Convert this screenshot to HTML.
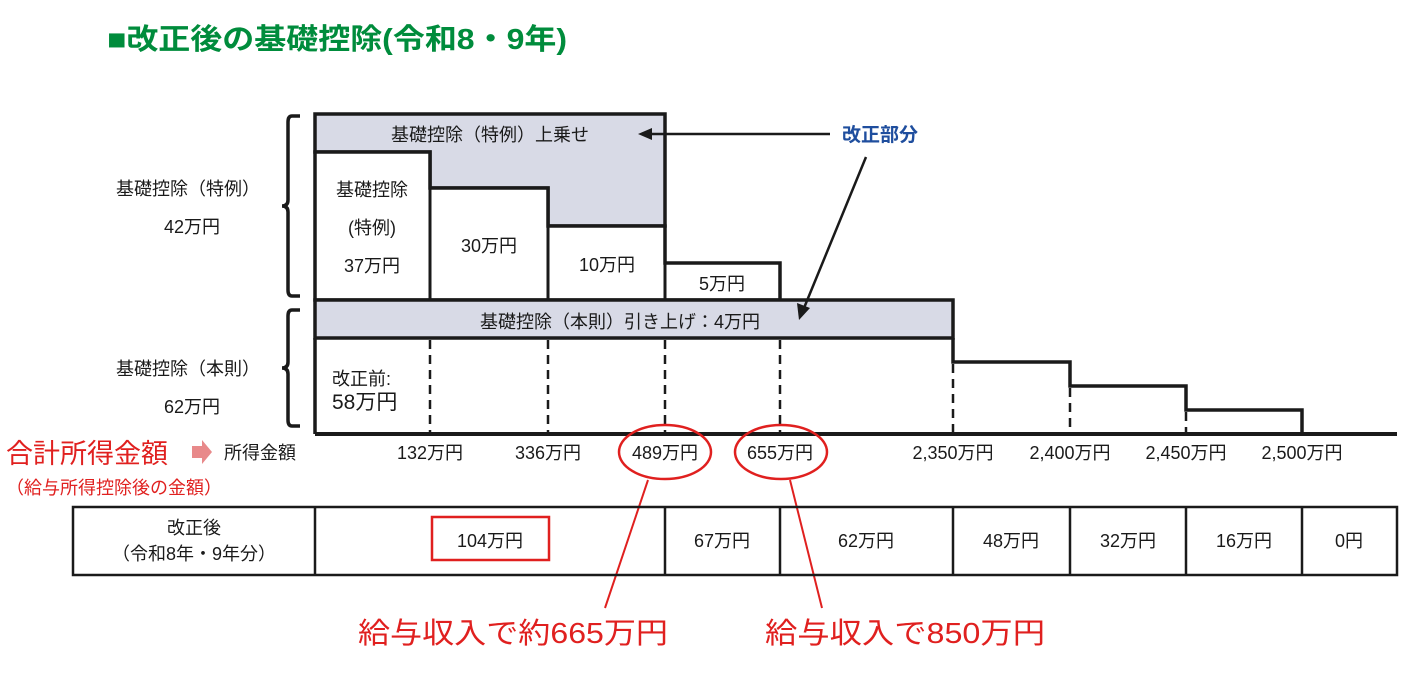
<!DOCTYPE html>
<html><head><meta charset="utf-8"><style>
html,body{margin:0;padding:0;background:#fff;}
svg{display:block;}
text{font-family:"Liberation Sans","Noto Sans CJK JP",sans-serif;}
</style></head><body>
<svg width="1407" height="691" viewBox="0 0 1407 691" xmlns="http://www.w3.org/2000/svg">
<text x="107" y="49" font-size="29" font-weight="bold" fill="#008c3c" textLength="460" lengthAdjust="spacingAndGlyphs">■改正後の基礎控除(令和8・9年)</text>

<path d="M315,114 H665 V226 H548 V188 H430 V152 H315 Z" fill="#d8dae6" stroke="#1a1a1a" stroke-width="3.5"/>
<path d="M315,152 H430 V188 H548 V226 H665 V263 H780 V300 H315 Z" fill="#fff" stroke="#1a1a1a" stroke-width="3.5"/>
<line x1="430" y1="152" x2="430" y2="300" stroke="#1a1a1a" stroke-width="3"/>
<line x1="548" y1="188" x2="548" y2="300" stroke="#1a1a1a" stroke-width="3"/>
<line x1="665" y1="226" x2="665" y2="300" stroke="#1a1a1a" stroke-width="3"/>
<rect x="315" y="300" width="638" height="38" fill="#d8dae6" stroke="#1a1a1a" stroke-width="3.5"/>
<path d="M315,338 V434 M953,338 V362 H1070 V386 H1186 V410 H1302 V434" fill="none" stroke="#1a1a1a" stroke-width="3.5"/>
<line x1="315" y1="434" x2="1397" y2="434" stroke="#1a1a1a" stroke-width="4"/>
<g stroke="#1a1a1a" stroke-width="2.5" stroke-dasharray="9,6">
<line x1="430" y1="340" x2="430" y2="432"/>
<line x1="548" y1="340" x2="548" y2="432"/>
<line x1="665" y1="340" x2="665" y2="432"/>
<line x1="780" y1="340" x2="780" y2="432"/>
<line x1="953" y1="364" x2="953" y2="432"/>
<line x1="1070" y1="388" x2="1070" y2="432"/>
<line x1="1186" y1="412" x2="1186" y2="432"/>
</g>

<g font-size="18" fill="#1a1a1a" text-anchor="middle">
<text x="490" y="141">基礎控除（特例）上乗せ</text>
<text x="372" y="196">基礎控除</text>
<text x="372" y="234">(特例)</text>
<text x="372" y="272">37万円</text>
<text x="489" y="252">30万円</text>
<text x="607" y="271">10万円</text>
<text x="722" y="290">5万円</text>
<text x="620" y="328">基礎控除（本則）引き上げ：4万円</text>
<text x="188" y="195">基礎控除（特例）</text>
<text x="192" y="233">42万円</text>
<text x="188" y="375">基礎控除（本則）</text>
<text x="192" y="413">62万円</text>
</g>
<text x="332" y="385" font-size="18" fill="#1a1a1a">改正前:</text>
<text x="332" y="409" font-size="21" fill="#1a1a1a">58万円</text>

<g fill="none" stroke="#1a1a1a" stroke-width="3.5">
<path d="M300,116 H292 Q288,116 288,122 V200 Q288,206 282,206 Q288,206 288,212 V290 Q288,296 292,296 H300"/>
<path d="M300,310 H292 Q288,310 288,316 V362 Q288,368 282,368 Q288,368 288,374 V420 Q288,426 292,426 H300"/>
</g>

<text x="842" y="141" font-size="19" font-weight="bold" fill="#1f4e9e">改正部分</text>
<line x1="830" y1="134" x2="650" y2="134" stroke="#1a1a1a" stroke-width="2.5"/>
<polygon points="638,134 652,128 652,140" fill="#1a1a1a"/>
<line x1="866" y1="157" x2="804" y2="308" stroke="#1a1a1a" stroke-width="2.5"/>
<polygon points="799,320 797,303 810,308" fill="#1a1a1a"/>

<text x="6" y="463" font-size="27" fill="#e0201f">合計所得金額</text>
<polygon points="192,446 202,446 202,440 212,452 202,464 202,458 192,458" fill="#e8898a"/>
<text x="224" y="459" font-size="18" fill="#1a1a1a">所得金額</text>
<text x="6" y="494" font-size="18" fill="#e0201f">（給与所得控除後の金額）</text>
<g font-size="18" fill="#1a1a1a" text-anchor="middle">
<text x="430" y="459">132万円</text>
<text x="548" y="459">336万円</text>
<text x="665" y="459">489万円</text>
<text x="780" y="459">655万円</text>
<text x="953" y="459">2,350万円</text>
<text x="1070" y="459">2,400万円</text>
<text x="1186" y="459">2,450万円</text>
<text x="1302" y="459">2,500万円</text>
</g>
<ellipse cx="665" cy="452" rx="46" ry="27" fill="none" stroke="#e0201f" stroke-width="2.5"/>
<ellipse cx="781" cy="452" rx="46" ry="27" fill="none" stroke="#e0201f" stroke-width="2.5"/>
<line x1="648" y1="480" x2="605" y2="608" stroke="#e0201f" stroke-width="2"/>
<line x1="790" y1="480" x2="822" y2="608" stroke="#e0201f" stroke-width="2"/>

<g stroke="#1a1a1a" stroke-width="2.5" fill="none">
<rect x="73" y="507" width="1324" height="68"/>
<line x1="315" y1="507" x2="315" y2="575"/>
<line x1="665" y1="507" x2="665" y2="575"/>
<line x1="780" y1="507" x2="780" y2="575"/>
<line x1="953" y1="507" x2="953" y2="575"/>
<line x1="1070" y1="507" x2="1070" y2="575"/>
<line x1="1186" y1="507" x2="1186" y2="575"/>
<line x1="1302" y1="507" x2="1302" y2="575"/>
</g>
<rect x="432" y="517" width="117" height="43" fill="none" stroke="#e0201f" stroke-width="2.5"/>
<g font-size="18" fill="#1a1a1a" text-anchor="middle">
<text x="194" y="534">改正後</text>
<text x="194" y="560">（令和8年・9年分）</text>
<text x="490" y="547">104万円</text>
<text x="722" y="547">67万円</text>
<text x="866" y="547">62万円</text>
<text x="1011" y="547">48万円</text>
<text x="1128" y="547">32万円</text>
<text x="1244" y="547">16万円</text>
<text x="1349" y="547">0円</text>
</g>
<text x="358" y="643" font-size="29" fill="#e0201f" textLength="310" lengthAdjust="spacingAndGlyphs">給与収入で約665万円</text>
<text x="765" y="643" font-size="29" fill="#e0201f" textLength="280" lengthAdjust="spacingAndGlyphs">給与収入で850万円</text>
</svg>
</body></html>
